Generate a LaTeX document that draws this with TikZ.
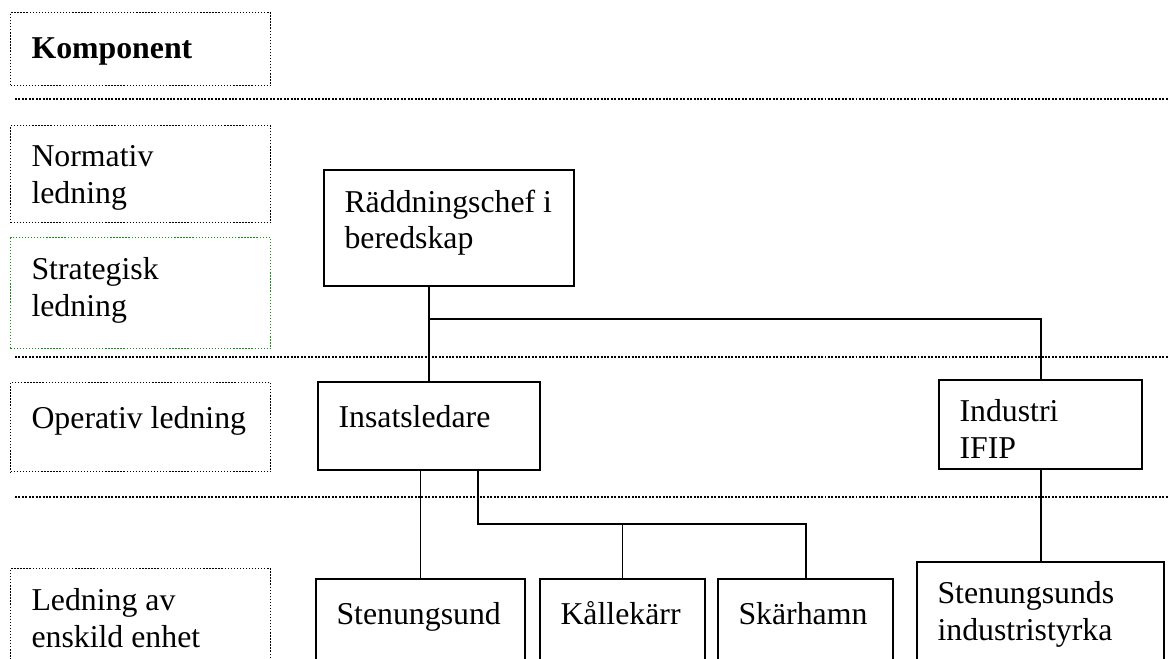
\documentclass[tikz,border=0pt]{standalone}
\usepackage{fontspec}
\setmainfont{Liberation Serif}
\newcommand{\pxu}{0.3774pt}
\definecolor{levelgreen}{RGB}{20,150,20}
\tikzset{
  unit/.style={draw, line width=0.75pt, anchor=north west, inner sep=0pt},
  level/.style={draw, line width=0.55pt, dash pattern=on 0.5pt off 0.65pt, anchor=north west, inner sep=0pt},
  txt/.style={anchor=north west, inner sep=0pt, align=left, xshift=21*\pxu, yshift=-46*\pxu+9.66pt, execute at begin node=\strut},
  sep/.style={line width=0.8pt, dash pattern=on 0.75pt off 0.55pt},
  link/.style={line width=0.75pt},
}
\begin{document}
\begin{tikzpicture}[x=\pxu, y=-\pxu, font=\fontsize{12}{13.8}\selectfont]
  \useasboundingbox (0,0) rectangle (1168,659);
  \clip (0,0) rectangle (1168,659);
  % levels
  \node[level, minimum width=260*\pxu, minimum height=73*\pxu, label={[txt, name=komp-t]north west:\textbf{Komponent}}] (komp) at (10,12) {};
  \node[level, minimum width=260*\pxu, minimum height=97*\pxu, label={[txt, name=norm-t]north west:Normativ\\ledning}] (norm) at (10,125) {};
  \node[level, draw=levelgreen, minimum width=260*\pxu, minimum height=111*\pxu, label={[txt, name=strat-t]north west:Strategisk\\ledning}] (strat) at (10,237) {};
  \node[level, minimum width=260*\pxu, minimum height=89*\pxu, label={[txt, name=oper-t]north west:Operativ ledning}] (oper) at (10,382) {};
  \node[level, minimum width=260*\pxu, minimum height=140*\pxu, label={[txt, name=enh-t]north west:Ledning av\\enskild enhet}] (enh) at (10,568) {};
  \draw[sep] (15,99) -- (1168,99);
  \draw[sep] (15,357) -- (1168,357);
  \draw[sep] (15,497) -- (1168,497);
  % units
  \node[unit, minimum width=250*\pxu, minimum height=116*\pxu, label={[txt, name=chef-t]north west:Räddningschef i\\beredskap}] (chef) at (323,169) {};
  \node[unit, minimum width=222*\pxu, minimum height=88*\pxu, label={[txt, name=ins-t]north west:Insatsledare}] (ins) at (317,381) {};
  \node[unit, minimum width=203*\pxu, minimum height=89*\pxu, label={[txt, name=ifip-t]north west:Industri\\IFIP}] (ifip) at (938,379) {};
  \node[unit, minimum width=209*\pxu, minimum height=140*\pxu, label={[txt, name=sten-t]north west:Stenungsund}] (sten) at (315,578) {};
  \node[unit, minimum width=165*\pxu, minimum height=140*\pxu, label={[txt, name=kall-t]north west:Kållekärr}] (kall) at (539,578) {};
  \node[unit, minimum width=175*\pxu, minimum height=140*\pxu, label={[txt, name=skar-t]north west:Skärhamn}] (skar) at (717,578) {};
  \node[unit, minimum width=247*\pxu, minimum height=140*\pxu, label={[txt, name=ind-t]north west:Stenungsunds\\industristyrka}] (ind) at (916,561) {};
  % connections
  \coordinate (fork1) at (428,319);
  \coordinate (fork2) at (478,524);
  \draw[link] (chef.south -| ins.north) -- (ins.north);
  \draw[link] (fork1) -| (ifip.north);
  \draw[link] (sten.north |- ins.south) -- (sten.north);
  \draw[link] (fork2 |- ins.south) -- (fork2) -| (skar.north);
  \draw[link] (fork2 -| kall.north) -- (kall.north);
  \draw[link] (ifip.south) -- (ind.north);
\end{tikzpicture}
\end{document}
